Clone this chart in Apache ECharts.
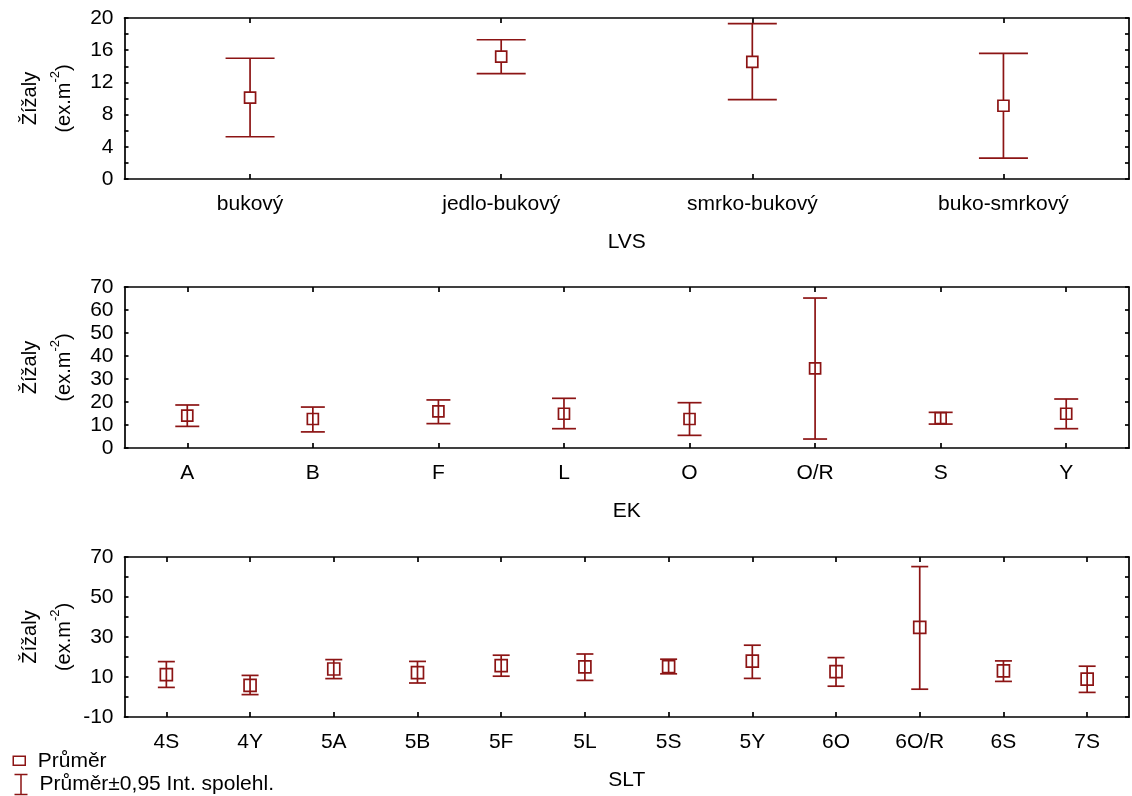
<!DOCTYPE html>
<html>
<head>
<meta charset="utf-8">
<script src="https://cdn.jsdelivr.net/npm/echarts@6/dist/echarts.min.js"></script>
<style>
  html, body { margin: 0; padding: 0; background: #fff; }
  #chart { width: 1132px; height: 796px; }
</style>
</head>
<body>
<div id="chart"></div>
<script>
// Žížaly – průměr a 95% interval spolehlivosti podle LVS, EK a SLT

// LVS
const lvsCategories = ['bukový', 'jedlo-bukový', 'smrko-bukový', 'buko-smrkový'];
const lvsMean = [10.1, 15.2, 14.55, 9.1];
const lvsLow  = [5.25, 13.1, 9.85, 2.6];
const lvsHigh = [15.0, 17.3, 19.3, 15.6];
const lvsTickLabels = [0, 4, 8, 12, 16, 20];

// EK
const ekCategories = ['A', 'B', 'F', 'L', 'O', 'O/R', 'S', 'Y'];
const ekMean = [14.1, 12.6, 15.9, 14.9, 12.6, 34.6, 13.0, 14.9];
const ekLow  = [9.4, 7.0, 10.6, 8.4, 5.5, 3.9, 10.4, 8.4];
const ekHigh = [18.7, 17.8, 20.9, 21.6, 19.7, 65.2, 15.5, 21.3];
const ekTickLabels = [0, 10, 20, 30, 40, 50, 60, 70];

// SLT
const sltCategories = ['4S', '4Y', '5A', '5B', '5F', '5L', '5S', '5Y', '6O', '6O/R', '6S', '7S'];
const sltMean = [11.2, 5.8, 14.0, 12.2, 15.7, 15.1, 15.2, 17.9, 12.7, 34.8, 13.1, 8.9];
const sltLow  = [4.8, 1.2, 9.2, 7.0, 10.4, 8.3, 11.6, 9.3, 5.4, 3.9, 7.8, 2.3];
const sltHigh = [17.7, 10.8, 18.7, 17.8, 20.9, 21.5, 18.9, 25.9, 19.7, 65.2, 18.05, 15.4];
const sltTickLabels = [-10, 10, 30, 50, 70];

const MEAN_NAME = 'Průměr';
const CI_NAME = 'Průměr±0,95 Int. spolehl.';
const RED = '#8c1414';
const INK = '#000';
const FONT = "'Liberation Sans', Arial, sans-serif";
const FS = 21;

const panels = [
  { cats: lvsCategories, mean: lvsMean, low: lvsLow, high: lvsHigh, labels: lvsTickLabels,
    step: 2, title: 'LVS', top: 18, height: 161, cap: 24.5, box: 11, boxFill: '#fff' },
  { cats: ekCategories, mean: ekMean, low: ekLow, high: ekHigh, labels: ekTickLabels,
    step: 10, title: 'EK', top: 287, height: 161, cap: 12, box: 11, boxFill: 'rgba(0,0,0,0)' },
  { cats: sltCategories, mean: sltMean, low: sltLow, high: sltHigh, labels: sltTickLabels,
    step: 10, title: 'SLT', top: 557, height: 160, cap: 8.5, box: 12, boxFill: 'rgba(0,0,0,0)' }
];

const axisLineStyle = { color: INK, width: 1.7 };

function errorBarRenderer(capHalf) {
  return function (params, api) {
    const x = api.value(0);
    const lo = api.coord([x, api.value(1)]);
    const hi = api.coord([x, api.value(2)]);
    const style = { stroke: RED, lineWidth: 1.7, fill: null };
    return {
      type: 'group',
      children: [
        { type: 'line', shape: { x1: lo[0], y1: lo[1], x2: hi[0], y2: hi[1] }, style: style },
        { type: 'line', shape: { x1: lo[0] - capHalf, y1: lo[1], x2: lo[0] + capHalf, y2: lo[1] }, style: style },
        { type: 'line', shape: { x1: hi[0] - capHalf, y1: hi[1], x2: hi[0] + capHalf, y2: hi[1] }, style: style }
      ]
    };
  };
}

const grid = [], xAxis = [], yAxis = [], series = [], graphic = [];

panels.forEach(function (p, i) {
  grid.push({ left: 124.5, right: 3, top: p.top, height: p.height, containLabel: false });

  const catTick = { show: true, inside: true, alignWithLabel: true, length: 5, lineStyle: axisLineStyle };
  xAxis.push({
    gridIndex: i, type: 'category', data: p.cats, position: 'bottom',
    axisLine: { show: true, onZero: false, lineStyle: axisLineStyle },
    axisTick: catTick,
    axisLabel: { interval: 0, margin: 15, fontSize: FS, color: INK, fontFamily: FONT },
    splitLine: { show: false },
    name: p.title, nameLocation: 'middle', nameGap: 53,
    nameTextStyle: { fontSize: FS, color: INK, fontFamily: FONT }
  });
  xAxis.push({
    gridIndex: i, type: 'category', data: p.cats, position: 'top',
    axisLine: { show: true, onZero: false, lineStyle: axisLineStyle },
    axisTick: catTick,
    axisLabel: { show: false },
    splitLine: { show: false }
  });

  const yMin = p.labels[0], yMax = p.labels[p.labels.length - 1];
  const valTick = { show: true, inside: true, length: 4, lineStyle: axisLineStyle };
  yAxis.push({
    gridIndex: i, type: 'value', min: yMin, max: yMax, interval: p.step, position: 'left',
    axisLine: { show: true, onZero: false, lineStyle: axisLineStyle },
    axisTick: valTick,
    axisLabel: {
      margin: 11, fontSize: FS, color: INK, fontFamily: FONT,
      formatter: function (v) { return p.labels.indexOf(v) >= 0 ? String(v) : ''; }
    },
    splitLine: { show: false }
  });
  yAxis.push({
    gridIndex: i, type: 'value', min: yMin, max: yMax, interval: p.step, position: 'right',
    axisLine: { show: true, onZero: false, lineStyle: axisLineStyle },
    axisTick: valTick,
    axisLabel: { show: false },
    splitLine: { show: false }
  });

  series.push({
    type: 'custom', name: CI_NAME,
    xAxisIndex: 2 * i, yAxisIndex: 2 * i,
    data: p.cats.map(function (c, j) { return [c, p.low[j], p.high[j]]; }),
    encode: { x: 0, y: [1, 2] },
    renderItem: errorBarRenderer(p.cap),
    z: 2, silent: true
  });
  series.push({
    type: 'scatter', name: MEAN_NAME,
    xAxisIndex: 2 * i, yAxisIndex: 2 * i,
    data: p.cats.map(function (c, j) { return [c, p.mean[j]]; }),
    symbol: 'rect', symbolSize: p.box,
    itemStyle: { color: p.boxFill, borderColor: RED, borderWidth: 1.7, opacity: 1 },
    z: 3, silent: true
  });

  // two-line rotated y-axis title
  const cy = p.top + p.height / 2;
  graphic.push({
    type: 'text', x: 30, y: cy, rotation: Math.PI / 2,
    style: { text: 'Žížaly', fontSize: 20, fontFamily: FONT, fill: INK, align: 'center', verticalAlign: 'middle' }
  });
  graphic.push({
    type: 'text', x: 64, y: cy, rotation: Math.PI / 2,
    style: {
      text: '(ex.m{s|-2})', fontSize: 20, fontFamily: FONT, fill: INK,
      align: 'center', verticalAlign: 'middle',
      rich: { s: { fontSize: 13, fontFamily: FONT, fill: INK, padding: [0, 0, 18, 0] } }
    }
  });
});

// legend: one row per entry, stacked in the bottom-left corner
const legendBase = {
  orient: 'horizontal', left: 12, padding: 0,
  itemWidth: 13, itemHeight: 20, itemGap: 2,
  selectedMode: false,
  textStyle: { fontSize: FS, lineHeight: 20, color: INK, fontFamily: FONT, padding: [0, 0, 0, 7] }
};
const legends = [
  Object.assign({}, legendBase, {
    top: 750,
    data: [{ name: MEAN_NAME, icon: 'path://M0,0 M13,20 M0.5,5.5 h12 v9 h-12 Z',
             itemStyle: { color: '#fff', borderColor: RED, borderWidth: 1.5 } }]
  }),
  Object.assign({}, legendBase, {
    top: 772,
    data: [{ name: CI_NAME, icon: 'path://M0,0 H13 M6.5,0 V20 M0,20 H13',
             itemStyle: { color: 'none', borderColor: RED, borderWidth: 1.5 } }]
  })
];

const chart = echarts.init(document.getElementById('chart'), null, { renderer: 'canvas' });
chart.setOption({
  animation: false,
  backgroundColor: '#fff',
  grid: grid,
  xAxis: xAxis,
  yAxis: yAxis,
  series: series,
  graphic: graphic,
  legend: legends
});
</script>
</body>
</html>
